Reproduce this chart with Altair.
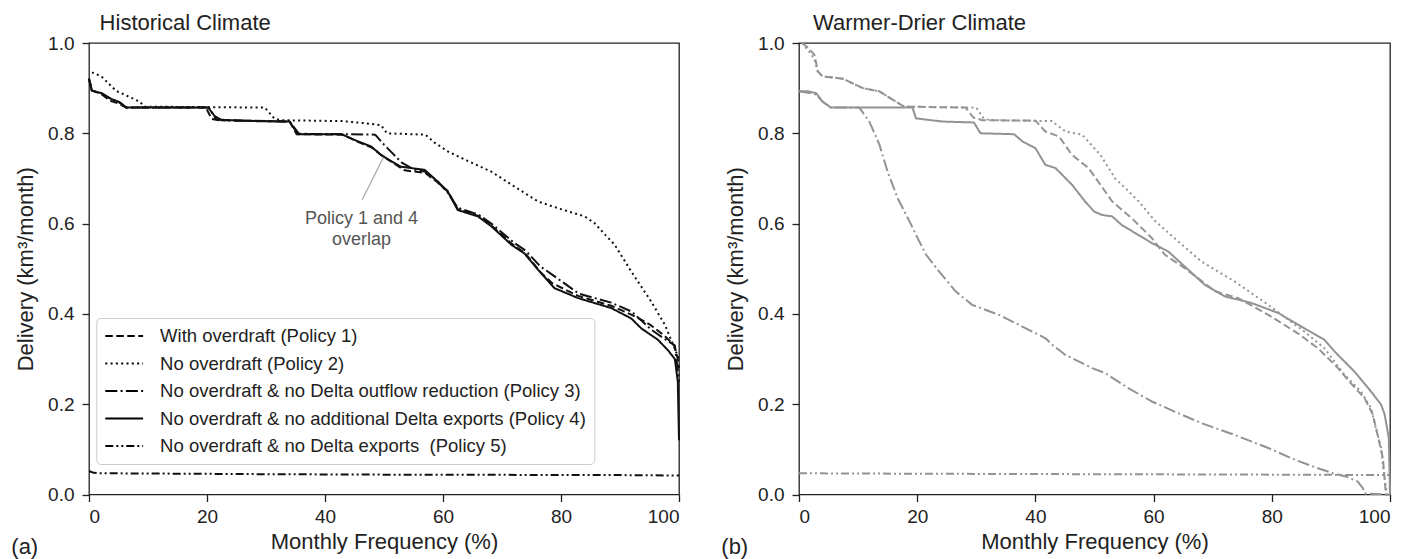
import altair as alt
import pandas as pd

# ---------------- data ----------------
x_ticks = [0, 20, 40, 60, 80, 100]
y_ticks = [0.0, 0.2, 0.4, 0.6, 0.8, 1.0]

policies = [
    "With overdraft (Policy 1)",
    "No overdraft (Policy 2)",
    "No overdraft & no Delta outflow reduction (Policy 3)",
    "No overdraft & no additional Delta exports (Policy 4)",
    "No overdraft & no Delta exports\u00a0 (Policy 5)",
]
dash_patterns = [[7.5, 3.5], [2, 3.3], [12, 3.3, 2, 3.3], [1, 0], [8, 3, 2, 3, 2, 3]]

# Historical climate
hist_p1_x = [0, 0.5, 2, 3.6, 5, 6.3, 19.8, 20.8, 22, 34, 35.2, 43, 45.6, 48, 49.5, 51.5, 53.5, 57, 59, 60.8, 62.5, 66, 68.2, 71.6, 74, 76.5, 78.5, 82.9, 88.5, 92, 95, 97.5, 99.2, 99.8, 100]
hist_p1_y = [0.92, 0.895, 0.888, 0.872, 0.866, 0.857, 0.857, 0.832, 0.829, 0.826, 0.798, 0.797, 0.781, 0.768, 0.752, 0.735, 0.718, 0.712, 0.692, 0.672, 0.632, 0.617, 0.596, 0.556, 0.533, 0.493, 0.468, 0.44, 0.418, 0.398, 0.377, 0.352, 0.33, 0.30, 0.28]

hist_p2_x = [0.5, 2.1, 4.6, 8.6, 9.4, 29.8, 31.4, 32.5, 43, 47, 49.5, 50.5, 57, 58.5, 60.8, 64, 68.2, 72, 76.1, 80, 84, 85.7, 87.5, 89.1, 91.9, 95.3, 97.6, 99, 100]
hist_p2_y = [0.935, 0.926, 0.894, 0.87, 0.859, 0.857, 0.833, 0.829, 0.827, 0.822, 0.818, 0.80, 0.797, 0.78, 0.76, 0.74, 0.715, 0.683, 0.649, 0.632, 0.616, 0.601, 0.575, 0.553, 0.494, 0.427, 0.376, 0.332, 0.30]

hist_p3_x = [0, 0.5, 2.1, 3.8, 5.2, 6.3, 20.3, 21.5, 22.5, 34, 35.6, 48.5, 50, 51.5, 53, 55, 57, 59, 61, 62.5, 66, 68.5, 72, 74, 76.5, 78.5, 83, 88.5, 92, 95.3, 97.5, 99.3, 100]
hist_p3_y = [0.92, 0.893, 0.889, 0.875, 0.868, 0.857, 0.857, 0.832, 0.829, 0.826, 0.799, 0.797, 0.775, 0.755, 0.735, 0.72, 0.715, 0.695, 0.665, 0.635, 0.62, 0.597, 0.558, 0.54, 0.505, 0.487, 0.445, 0.425, 0.405, 0.365, 0.345, 0.33, 0.25]

hist_p4_x = [0, 0.5, 2.1, 3.8, 5.2, 6.3, 20.2, 21.3, 22.4, 28, 34, 35.4, 42.8, 45.6, 47.8, 49.5, 51, 52.9, 56.9, 59.1, 60.8, 62.5, 65.9, 68.2, 71.6, 73.8, 76.1, 78.9, 82.9, 88.5, 91.9, 93.6, 96.4, 98.1, 99.3, 99.8, 100]
hist_p4_y = [0.922, 0.894, 0.889, 0.876, 0.869, 0.857, 0.857, 0.838, 0.83, 0.827, 0.826, 0.798, 0.798, 0.782, 0.771, 0.752, 0.74, 0.726, 0.719, 0.693, 0.671, 0.63, 0.616, 0.594, 0.553, 0.534, 0.498, 0.457, 0.435, 0.413, 0.39, 0.368, 0.343, 0.32, 0.30, 0.25, 0.12]

hist_p5_x = [0, 0.8, 2, 10, 30, 50, 70, 90, 100]
hist_p5_y = [0.052, 0.048, 0.047, 0.0465, 0.045, 0.044, 0.0435, 0.043, 0.042]

# Warmer-drier climate
dry_p1_x = [0.5, 1.5, 2.6, 3.2, 4.0, 7.4, 10.8, 13.6, 15.9, 17.8, 28.2, 29.5, 31, 40, 41.7, 44, 46.2, 49, 51, 53, 56.3, 59.7, 61.9, 65.3, 70.4, 74.3, 79.4, 84.4, 87.8, 91.2, 93.4, 95.7, 97.1, 97.9, 98.8, 99.3, 100]
dry_p1_y = [1.0, 0.99, 0.974, 0.937, 0.926, 0.921, 0.9, 0.893, 0.874, 0.859, 0.857, 0.835, 0.829, 0.828, 0.804, 0.793, 0.752, 0.723, 0.686, 0.649, 0.612, 0.568, 0.531, 0.501, 0.45, 0.435, 0.398, 0.357, 0.324, 0.28, 0.246, 0.213, 0.177, 0.132, 0.08, 0.0, 0.0]

dry_p2_x = [0.5, 1.5, 2.6, 3.2, 4, 7.4, 10.8, 13.6, 15.9, 17.8, 30, 31.3, 32.5, 42.8, 45.1, 47.9, 51, 53.5, 55.5, 57.5, 60.3, 64.2, 68.1, 73.7, 79.4, 85.5, 88.9, 92.3, 95.1, 96.8, 97.6, 98.5, 99, 99.5, 100]
dry_p2_y = [1.0, 0.985, 0.965, 0.935, 0.926, 0.921, 0.9, 0.893, 0.874, 0.859, 0.857, 0.832, 0.829, 0.827, 0.804, 0.797, 0.752, 0.70, 0.675, 0.649, 0.605, 0.56, 0.516, 0.472, 0.42, 0.361, 0.324, 0.265, 0.228, 0.191, 0.147, 0.103, 0.044, 0.0, 0.0]

dry_p3_x = [0, 1.5, 2.9, 4, 5.4, 10.2, 11.9, 13.6, 15, 16.7, 18.7, 19.8, 21.5, 23.7, 26.5, 29.3, 33.8, 37.8, 41.7, 43, 45.1, 47.3, 49.6, 51.8, 55.8, 59.7, 64.2, 68.1, 73.7, 79.4, 83.9, 87.8, 90.6, 92.5, 94.5, 95.4, 95.8, 100]
dry_p3_y = [0.893, 0.89, 0.886, 0.87, 0.857, 0.857, 0.826, 0.775, 0.715, 0.656, 0.605, 0.575, 0.531, 0.494, 0.45, 0.42, 0.398, 0.372, 0.346, 0.33, 0.309, 0.295, 0.28, 0.269, 0.235, 0.206, 0.18, 0.158, 0.132, 0.103, 0.077, 0.058, 0.046, 0.04, 0.029, 0.014, 0.002, 0.0]

dry_p4_x = [0, 1.5, 2.9, 4, 5.4, 19.2, 19.8, 24.3, 29.6, 30.7, 36.4, 37.8, 40, 41.7, 43.4, 46.2, 48.4, 49.9, 51.3, 53, 54.6, 59.7, 62.5, 68.7, 72, 76.6, 81.1, 85.5, 88.9, 90.6, 94, 96.8, 98.5, 99.1, 99.8, 100]
dry_p4_y = [0.893, 0.893, 0.889, 0.87, 0.857, 0.857, 0.833, 0.826, 0.824, 0.8, 0.798, 0.782, 0.767, 0.73, 0.723, 0.686, 0.649, 0.627, 0.619, 0.616, 0.597, 0.557, 0.538, 0.464, 0.439, 0.424, 0.402, 0.368, 0.343, 0.317, 0.272, 0.228, 0.199, 0.177, 0.125, 0.0]

dry_p5_x = [0, 20, 50, 80, 100]
dry_p5_y = [0.047, 0.046, 0.045, 0.044, 0.043]

annot_lines = ["Policy 1 and 4", "overlap"]
annot_x = [46.2, 46.2]
annot_y = [0.611, 0.563]
pointer = {"x": [50.0], "y": [0.749], "x2": [46.3], "y2": [0.653]}

# ---------------- helpers ----------------
def make_df(series):
    rows = []
    for name, xs, ys in series:
        for i, (xv, yv) in enumerate(zip(xs, ys)):
            rows.append({"policy": name, "x": xv, "y": yv, "i": i})
    return pd.DataFrame(rows)

hist_df = make_df([
    (policies[0], hist_p1_x, hist_p1_y),
    (policies[1], hist_p2_x, hist_p2_y),
    (policies[2], hist_p3_x, hist_p3_y),
    (policies[3], hist_p4_x, hist_p4_y),
    (policies[4], hist_p5_x, hist_p5_y),
])
dry_df = make_df([
    (policies[0], dry_p1_x, dry_p1_y),
    (policies[1], dry_p2_x, dry_p2_y),
    (policies[2], dry_p3_x, dry_p3_y),
    (policies[3], dry_p4_x, dry_p4_y),
    (policies[4], dry_p5_x, dry_p5_y),
])

FONT = "Liberation Sans"
H = 451.5


def panel(df, color, width, title, title_dx, letter, legend, annotate):
    xenc = alt.X("x:Q", scale=alt.Scale(domain=[0, 100], nice=False, zero=False),
                 axis=alt.Axis(values=x_ticks, format="d", title="Monthly Frequency (%)",
                               titleY=47, titleBaseline="middle"))
    yenc = alt.Y("y:Q", scale=alt.Scale(domain=[0, 1], nice=False, zero=False),
                 axis=alt.Axis(values=y_ticks, format=".1f", title="Delivery (km³/month)",
                               titleX=-64, titleY=H / 2, titleAngle=270,
                               titleAlign="center", titleBaseline="middle"))
    lines = alt.Chart(df).mark_line(color=color, strokeWidth=2, strokeCap="butt", strokeJoin="round").encode(
        x=xenc, y=yenc,
        strokeDash=alt.StrokeDash("policy:N", scale=alt.Scale(domain=policies, range=dash_patterns),
                                  legend=legend, sort=policies),
        order=alt.Order("i:Q"),
    )
    lab = alt.Chart(pd.DataFrame({"t": [letter]})).mark_text(
        align="left", baseline="middle", fontSize=22, font=FONT, color="#222"
    ).encode(text="t:N", x=alt.value(-77.7), y=alt.value(503.5))
    ttl = alt.Chart(pd.DataFrame({"t": [title]})).mark_text(
        align="left", baseline="alphabetic", fontSize=22, font=FONT, color="#222"
    ).encode(text="t:N", x=alt.value(title_dx), y=alt.value(-13.5))
    layers = [lines, lab, ttl]
    if annotate:
        adf = pd.DataFrame({"t": annot_lines, "x": annot_x, "y": annot_y})
        txt = alt.Chart(adf).mark_text(fontSize=18, font=FONT, color="#555", align="center",
                                       baseline="middle").encode(x="x:Q", y="y:Q", text="t:N")
        rule = alt.Chart(pd.DataFrame(pointer)).mark_rule(color="#aaaaaa", strokeWidth=1.3).encode(
            x="x:Q", y="y:Q", x2="x2:Q", y2="y2:Q")
        layers = [rule, lines, txt, lab, ttl]
    return alt.layer(*layers).properties(width=width, height=H)


legend = alt.Legend(orient="none", legendX=7.3, legendY=275, title=None,
                    symbolType="M-1,0H3.2", symbolSize=324, symbolStrokeWidth=2,
                    symbolStrokeColor="black",
                    labelFontSize=18.5, labelFont=FONT, labelColor="#222", labelOffset=35.8,
                    padding=8, rowPadding=7.5, fillColor="white", strokeColor="#cccccc",
                    cornerRadius=4, labelLimit=700)

left = panel(hist_df, "#111111", 590, "Historical Climate", 10.6, "(a)", legend, True)
right = panel(dry_df, "#939393", 591, "Warmer-Drier Climate", 14, "(b)", None, False)

chart = alt.hconcat(left, right, spacing=120, bounds="flush").resolve_scale(
    strokeDash="independent"
).properties(
    padding={"left": 2, "top": 2, "right": 5, "bottom": 0}
).configure_view(
    stroke="#222222", strokeWidth=1.3
).configure_axis(
    labelFont=FONT, labelFontSize=19, labelColor="#222", titleFont=FONT, titleFontSize=22,
    titleFontWeight="normal", titleColor="#222", tickSize=7, tickWidth=1.3, tickColor="#222",
    domain=False, grid=False
).configure_axisX(labelPadding=6).configure_axisY(labelPadding=8)

chart.save("out.html", embed_options={"renderer": "svg", "actions": False})
